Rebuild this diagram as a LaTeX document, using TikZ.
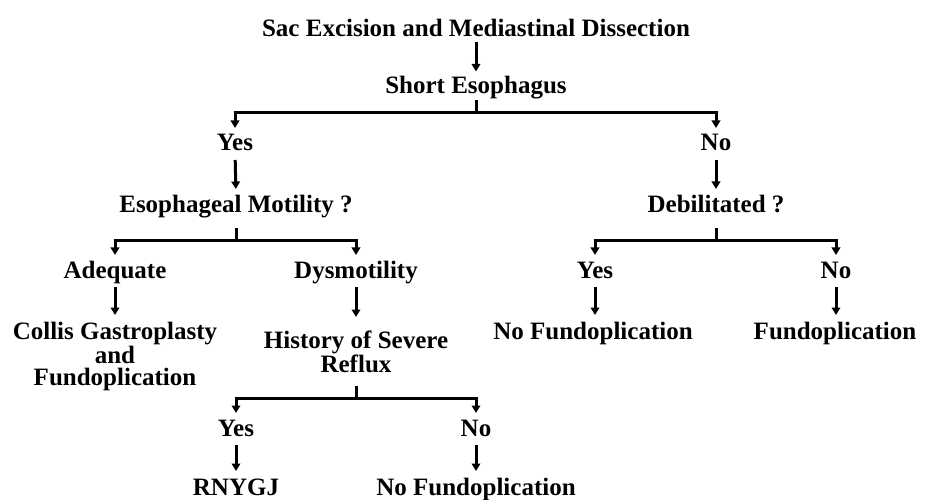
\documentclass[tikz,border=0pt]{standalone}
\usepackage{fontspec}
\setmainfont{Liberation Serif}
\usetikzlibrary{arrows.meta}
\tikzset{
  lbl/.style={font=\fontsize{25}{22.5}\selectfont\bfseries, inner sep=0pt, outer sep=0pt, anchor=base, text height=17pt, text depth=0pt},
  mlbl/.style={font=\fontsize{25}{22.5}\selectfont\bfseries, inner sep=0pt, outer sep=0pt, anchor=north, align=center},
  stem/.style={line width=3pt, line cap=butt},
  arr/.style={line width=3pt, -{Triangle[width=8.5pt,length=7.5pt]}, shorten <=9pt, shorten >=7pt},
  brn/.style={line width=3pt, line join=miter, -{Triangle[width=8.5pt,length=7.5pt]}, shorten >=6pt},
}
\begin{document}
\begin{tikzpicture}[x=1pt,y=-1pt]
\useasboundingbox[fill=white] (0,0) rectangle (930,500);
% nodes
\node[lbl] (sac) at (476,36.5) {Sac Excision and Mediastinal Dissection};
\node[lbl] (short) at (476,94) {Short Esophagus};
\node[lbl] (yes1) at (235,151) {Yes};
\node[lbl] (no1) at (716,151) {No};
\node[lbl] (esoph) at (236,213) {Esophageal Motility ?};
\node[lbl] (debil) at (716,213) {Debilitated ?};
\node[lbl] (adeq) at (115,278) {Adequate};
\node[lbl] (dysm) at (356,278) {Dysmotility};
\node[lbl] (yes2) at (595,278) {Yes};
\node[lbl] (no2) at (836,278) {No};
\node[mlbl] (collis) at (115,322) {Collis Gastroplasty\\and\\Fundoplication};
\node[mlbl] (hist) at (356,331) {History of Severe\\Reflux};
\node[lbl] (nofund1) at (593,339) {No Fundoplication};
\node[lbl] (fund) at (835,339) {Fundoplication};
\node[lbl] (yes3) at (236,436) {Yes};
\node[lbl] (no3) at (476,436) {No};
\node[lbl] (rnygj) at (236,495) {RNYGJ};
\node[lbl] (nofund2) at (476,495) {No Fundoplication};
% junctions
\coordinate (j1) at (476,113);
\coordinate (j2) at (236,241);
\coordinate (j3) at (716,241);
\coordinate (j4) at (356,398);
% connectors
\draw[arr, shorten <=5.5pt, shorten >=5.5pt] (sac.south) -- (short.north);
\draw[stem, shorten <=6pt] (short.south) -- (j1);
\draw[brn] (j1) -| (yes1.north);
\draw[brn] (j1) -| (no1.north);
\draw[arr] (yes1.south) -- (esoph.north);
\draw[arr] (no1.south) -- (debil.north);
\draw[stem, shorten <=15pt] (esoph.south) -- (j2);
\draw[brn] (j2) -| (adeq.north);
\draw[brn] (j2) -| (dysm.north);
\draw[stem, shorten <=15pt] (debil.south) -- (j3);
\draw[brn] (j3) -| (yes2.north);
\draw[brn] (j3) -| (no2.north);
\draw[arr] (adeq.south) -- (collis.north);
\draw[arr, shorten >=14pt] (dysm.south) -- (hist.north);
\draw[arr] (yes2.south) -- (nofund1.north -| yes2.south);
\draw[arr] (no2.south) -- (fund.north -| no2.south);
\draw[stem, shorten <=13pt] (hist.south) -- (j4);
\draw[brn] (j4) -| (yes3.north);
\draw[brn] (j4) -| (no3.north);
\draw[arr] (yes3.south) -- (rnygj.north);
\draw[arr] (no3.south) -- (nofund2.north);
\end{tikzpicture}
\end{document}
